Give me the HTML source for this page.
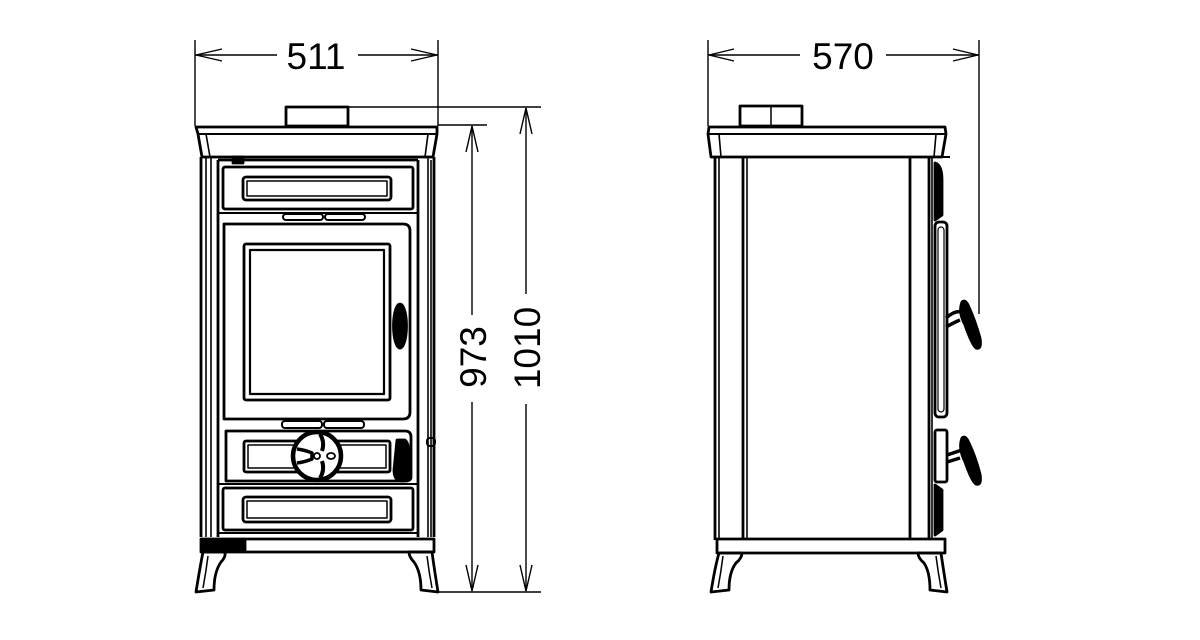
<!DOCTYPE html>
<html><head><meta charset="utf-8"><style>
html,body{margin:0;padding:0;background:#fff;}
svg{display:block;}
text{font-family:"Liberation Sans",Arial,sans-serif;fill:#000;}
</style></head><body>
<svg width="1200" height="640" viewBox="0 0 1200 640" xmlns="http://www.w3.org/2000/svg">
<g fill="none" stroke="#000">
<g stroke-width="1.4">
  <line x1="195" y1="40" x2="195" y2="126"/>
  <line x1="438" y1="40" x2="438" y2="126"/>
  <line x1="195" y1="55" x2="277" y2="55"/>
  <line x1="358" y1="55" x2="438" y2="55"/>
  <polyline points="222,49 196,55 222,61"/>
  <polyline points="411,49 437,55 411,61"/>

  <line x1="708" y1="40" x2="708" y2="126"/>
  <line x1="979" y1="40" x2="979" y2="314"/>
  <line x1="708" y1="55" x2="800" y2="55"/>
  <line x1="886" y1="55" x2="979" y2="55"/>
  <polyline points="734,49 709,55 734,61"/>
  <polyline points="953,49 978,55 953,61"/>

  <line x1="348" y1="107" x2="541" y2="107"/>
  <line x1="438" y1="125" x2="487" y2="125"/>
  <line x1="438" y1="592" x2="541" y2="592"/>
  <line x1="472" y1="126" x2="472" y2="315"/>
  <line x1="472" y1="402" x2="472" y2="591"/>
  <polyline points="466,152 472,126 478,152"/>
  <polyline points="466,565 472,591 478,565"/>
  <line x1="526" y1="108" x2="526" y2="294"/>
  <line x1="526" y1="404" x2="526" y2="591"/>
  <polyline points="520,134 526,108 532,134"/>
  <polyline points="520,565 526,591 532,565"/>
</g>
</g>
<text x="316" y="69" font-size="37" text-anchor="middle">511</text>
<text x="843" y="69" font-size="37" text-anchor="middle">570</text>
<text transform="translate(486,357) rotate(-90)" font-size="37" text-anchor="middle">973</text>
<text transform="translate(540,348) rotate(-90)" font-size="37" text-anchor="middle">1010</text>

<g fill="none" stroke="#000" stroke-width="2.8" stroke-linejoin="round">
<!-- ===== Front view ===== -->
<rect x="286" y="107" width="62" height="19"/>
<path d="M196,127 L437,127 L437,134 L433,157 L202,157 L198,134 Z"/>
<line x1="198" y1="134" x2="437" y2="134" stroke-width="2"/>
<line x1="206" y1="134" x2="210" y2="157" stroke-width="1.6"/>
<line x1="428" y1="134" x2="425" y2="157" stroke-width="1.6"/>
<line x1="201" y1="157" x2="201" y2="537"/>
<line x1="206" y1="157" x2="206" y2="537" stroke-width="1.6"/>
<line x1="211" y1="157" x2="211" y2="537" stroke-width="1.6"/>
<line x1="218" y1="160" x2="218" y2="537"/>
<line x1="434" y1="157" x2="434" y2="537"/>
<line x1="428" y1="157" x2="428" y2="537" stroke-width="1.6"/>
<line x1="418" y1="160" x2="418" y2="537"/>
<line x1="218" y1="160" x2="418" y2="160"/>
<rect x="233" y="157" width="10" height="6" fill="#000"/>
<rect x="223" y="167" width="190" height="42" rx="2"/>
<rect x="243" y="177" width="148" height="23" rx="3"/>
<rect x="247" y="181" width="140" height="15" stroke-width="1.5"/>
<line x1="218" y1="213" x2="418" y2="213" stroke-width="2"/>
<rect x="283" y="214" width="40" height="6" rx="3" stroke-width="2"/>
<rect x="325" y="214" width="40" height="6" rx="3" stroke-width="2"/>
<path d="M224,224 L403,224 Q410,224 410,231 L410,412 Q410,419 403,419 L224,419 Z"/>
<rect x="244" y="244" width="146" height="156" rx="2"/>
<rect x="250" y="250" width="134" height="144" stroke-width="2.2"/>
<ellipse cx="400" cy="326" rx="6.5" ry="22" fill="#000"/>
<rect x="282" y="421" width="40" height="7" rx="3" stroke-width="2"/>
<rect x="324" y="421" width="40" height="7" rx="3" stroke-width="2"/>
<path d="M226,431 L405,431 Q411,431 411,437 L411,477 Q411,481 405,481 L226,481 Z"/>
<rect x="244" y="441" width="146" height="31" rx="2"/>
<rect x="248" y="445" width="138" height="23" stroke-width="1.5"/>
<path d="M397,440 L405,440 Q411,444 410,475 Q408,481 402,481 Q394,481 394,470 Z" fill="#000"/>
<line x1="431" y1="160" x2="431" y2="537" stroke-width="1.6"/>
<rect x="427" y="438" width="8" height="8" rx="3" stroke-width="2"/>
<circle cx="317" cy="456" r="24" fill="#fff" stroke-width="4.5"/>
<circle cx="317" cy="456" r="3" stroke-width="1.8"/>
<path d="M297,449 Q305,450 312,453 L312,459 Q305,462 297,463" stroke-width="3.5"/>
<path d="M320,434 Q325,442 322,451" stroke-width="4"/>
<path d="M320,478 Q325,470 322,461" stroke-width="4"/>
<ellipse cx="331" cy="456" rx="4" ry="3" stroke-width="1.8"/>
<line x1="218" y1="484" x2="418" y2="484" stroke-width="2"/>
<rect x="223" y="488" width="190" height="42" rx="2"/>
<rect x="243" y="497" width="148" height="25" rx="3"/>
<rect x="247" y="501" width="140" height="17" stroke-width="1.5"/>
<line x1="218" y1="533" x2="418" y2="533" stroke-width="2"/>
<rect x="201" y="539" width="233" height="13"/>
<rect x="203" y="540" width="42" height="10" fill="#000"/>
<path d="M203,552 L225,552 Q226,557 221,562 Q214,572 214,590 L196,592 Q200,567 203,552 Z"/>
<path d="M208,556 Q206,572 203,588" stroke-width="1.5"/>
<path d="M409,552 L432,552 Q434,567 438,592 L421,590 Q421,572 414,562 Q409,557 409,552 Z"/>
<path d="M427,556 Q429,572 432,588" stroke-width="1.5"/>

<!-- ===== Side view ===== -->
<rect x="740" y="106" width="62" height="20"/>
<line x1="771" y1="107" x2="771" y2="125" stroke-width="1.5"/>
<path d="M709,127 L945,127 L946,134 L942,157 L711,157 L708,134 Z"/>
<line x1="708" y1="134" x2="946" y2="134" stroke-width="2"/>
<line x1="719" y1="134" x2="721" y2="157" stroke-width="1.6"/>
<line x1="936" y1="134" x2="934" y2="157" stroke-width="1.6"/>
<line x1="715" y1="157" x2="715" y2="540"/>
<line x1="719" y1="157" x2="719" y2="540" stroke-width="1.6"/>
<line x1="743" y1="157" x2="743" y2="538"/>
<line x1="747" y1="157" x2="747" y2="538" stroke-width="1.6"/>
<line x1="910" y1="157" x2="910" y2="538"/>
<line x1="929" y1="157" x2="929" y2="540"/>
<line x1="932" y1="157" x2="932" y2="540" stroke-width="1.6"/>
<line x1="932" y1="157" x2="950" y2="157" stroke-width="2"/>
<path d="M935,163 Q942,165 942,180 L942,215 L935,220 Z" fill="#000"/>
<rect x="935" y="222" width="12" height="195" rx="4"/>
<rect x="938" y="227" width="6" height="185" rx="3" stroke-width="1.2"/>
<rect x="935" y="430" width="12" height="52" rx="2"/>
<path d="M935,485 L942,490 L942,530 L935,535 Z" fill="#000"/>
<path d="M946,318 Q955,310 962,312" stroke-width="3.5"/>
<path d="M946,327 Q955,322 960,320" stroke-width="3.5"/>
<path d="M962,302 Q958,312 965,325 Q972,345 976,348 Q982,350 980,338 Q975,320 968,305 Q965,299 962,302 Z" fill="#000"/>
<path d="M947,455 L962,450" stroke-width="3.5"/>
<path d="M947,462 L960,458" stroke-width="3.5"/>
<path d="M962,438 Q958,448 965,462 Q972,482 976,484 Q982,486 980,474 Q975,455 968,441 Q965,435 962,438 Z" fill="#000"/>
<rect x="717" y="539" width="228" height="14"/>
<path d="M719,553 L742,553 Q742,558 736,563 Q729,572 729,590 L711,592 Q715,567 719,553 Z"/>
<path d="M723,556 Q721,572 718,588" stroke-width="1.5"/>
<path d="M918,553 L941,553 Q943,567 947,592 L930,590 Q930,572 924,563 Q918,558 918,553 Z"/>
<path d="M936,556 Q938,572 941,588" stroke-width="1.5"/>
</g>
</svg>
</body></html>
